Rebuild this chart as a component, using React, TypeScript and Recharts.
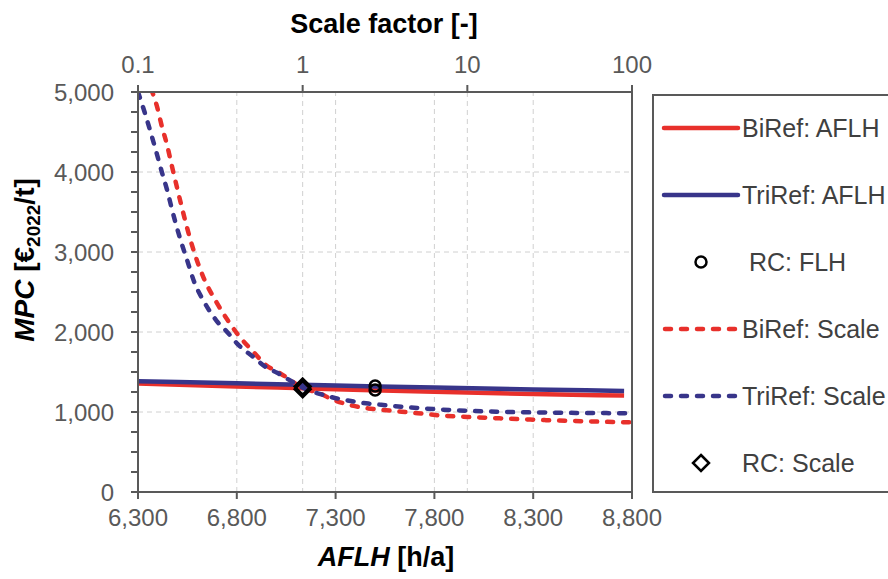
import { ComposedChart, Line, Scatter, XAxis, YAxis, ReferenceLine } from "recharts";

// ─── Data ─────────────────────────────────────────────────────────────────────
const aflhHours = [6300, 6800, 7300, 7800, 8300, 8760];
const biRefAflh = [1355, 1320, 1285, 1252, 1225, 1205];
const triRefAflh = [1385, 1358, 1332, 1305, 1282, 1262];

const scaleFactors = [
  0.1, 0.11, 0.12, 0.13, 0.14, 0.15, 0.16, 0.18, 0.2, 0.22, 0.25, 0.3, 0.35, 0.4, 0.5, 0.6, 0.7,
  0.8, 1, 1.25, 1.5, 2, 2.5, 3, 4, 5, 7, 10, 15, 20, 30, 50, 70, 100,
];
const biRefScale = [
  null, null, 5040, 4830, 4560, 4340, 4090, 3650, 3280, 2990, 2680, 2370, 2150, 1980, 1755, 1585,
  1505, 1432, 1298, 1240, 1160, 1080, 1045, 1028, 1003, 985, 955, 938, 922, 912, 898, 885, 877, 871,
];
const triRefScale = [
  5000, 4740, 4480, 4230, 3990, 3780, 3550, 3170, 2880, 2620, 2390, 2140, 1995, 1855, 1690, 1560,
  1490, 1420, 1302, 1230, 1185, 1135, 1105, 1090, 1065, 1050, 1030, 1015, 1004, 998, 993, 988, 986, 984,
];

const rcFlhAflh = [7500, 7500];
const rcFlhMpc = [1325, 1275];
const rcScaleFactor = [1, 1];
const rcScaleMpc = [1318, 1285];

const aflhTicks = [6300, 6800, 7300, 7800, 8300, 8800];
const scaleTicks = [0.1, 1, 10, 100];
const mpcTicks = [
  0, 250, 500, 750, 1000, 1250, 1500, 1750, 2000, 2250, 2500, 2750, 3000, 3250, 3500, 3750, 4000,
  4250, 4500, 4750, 5000,
];
const mpcGrid = [1000, 2000, 3000, 4000];
const aflhGrid = [6800, 7300, 7800, 8300];
const scaleGrid = [1, 10];

const aflhRows = aflhHours.map((x, i) => ({ x, bi: biRefAflh[i], tri: triRefAflh[i] }));
const scaleRows = scaleFactors.map((x, i) => ({ x, bi: biRefScale[i], tri: triRefScale[i] }));
const rcFlhRows = rcFlhAflh.map((x, i) => ({ x, y: rcFlhMpc[i] }));
const rcScaleRows = rcScaleFactor.map((x, i) => ({ x, y: rcScaleMpc[i] }));

// ─── Style ────────────────────────────────────────────────────────────────────
const RED = "#E8302B";
const BLUE = "#38358A";
const AXIS = "#595959";
const GRID = "#D0D0D0";
const FONT = "'Liberation Sans', Arial, sans-serif";

function MpcTick({ x, y, payload }: any) {
  if (payload.value % 1000 !== 0) return <g />;
  return (
    <text x={x} y={y} dy="0.36em" textAnchor="end" fill={AXIS} fontSize={24} fontFamily={FONT}>
      {payload.value.toLocaleString("en-US")}
    </text>
  );
}

const EmptyTick = () => <g />;

function Ring({ cx, cy }: any) {
  return <circle cx={cx} cy={cy} r={5.5} fill="none" stroke="#000" strokeWidth={2.5} />;
}

function Diamond({ cx, cy }: any) {
  const s = 8;
  return (
    <path
      d={`M${cx},${cy - s} L${cx + s},${cy} L${cx},${cy + s} L${cx - s},${cy} Z`}
      fill="none"
      stroke="#000"
      strokeWidth={2.5}
    />
  );
}

// ─── Legend ───────────────────────────────────────────────────────────────────
const legendItems = [
  { label: "BiRef: AFLH", kind: "solid", color: RED },
  { label: "TriRef: AFLH", kind: "solid", color: BLUE },
  { label: " RC: FLH", kind: "ring", color: "#000" },
  { label: "BiRef: Scale", kind: "dash", color: RED },
  { label: "TriRef: Scale", kind: "dash", color: BLUE },
  { label: "RC: Scale", kind: "diamond", color: "#000" },
];

function ChartLegend() {
  return (
    <div
      style={{
        position: "absolute",
        left: 652,
        top: 94,
        width: 260,
        height: 399,
        border: `2px solid ${AXIS}`,
        boxSizing: "border-box",
        fontFamily: FONT,
      }}
    >
      {legendItems.map((it, i) => (
        <div
          key={it.label}
          style={{
            position: "absolute",
            left: 0,
            top: 32 + i * 67 - 15,
            height: 30,
            display: "flex",
            alignItems: "center",
          }}
        >
          <svg width={88} height={30} style={{ display: "block" }}>
            {it.kind === "solid" && (
              <line x1={10} x2={84} y1={15} y2={15} stroke={it.color} strokeWidth={4.5} strokeLinecap="round" />
            )}
            {it.kind === "dash" && (
              <line
                x1={11}
                x2={84}
                y1={15}
                y2={15}
                stroke={it.color}
                strokeWidth={4.5}
                strokeDasharray="6 10"
                strokeLinecap="round"
              />
            )}
            {it.kind === "ring" && <Ring cx={47} cy={15} />}
            {it.kind === "diamond" && <Diamond cx={47} cy={15} />}
          </svg>
          <span style={{ fontSize: 25, color: "#404040", whiteSpace: "pre" }}>{it.label}</span>
        </div>
      ))}
    </div>
  );
}

// ─── Chart ────────────────────────────────────────────────────────────────────
export default function App() {
  return (
    <div
      style={{
        position: "absolute",
        left: 0,
        top: 0,
        width: 888,
        height: 579,
        overflow: "hidden",
        background: "#fff",
      }}
    >
      <ComposedChart width={888} height={579} margin={{ top: 0, right: 0, bottom: 0, left: 0 }}>
        <XAxis
          xAxisId="aflh"
          dataKey="x"
          type="number"
          orientation="bottom"
          domain={[6300, 8800]}
          ticks={aflhTicks}
          height={87}
          allowDataOverflow
          stroke={AXIS}
          axisLine={{ stroke: AXIS, strokeWidth: 2 }}
          tickLine={{ stroke: AXIS, strokeWidth: 2 }}
          tickSize={7}
          tickMargin={10}
          tick={{ fill: AXIS, fontSize: 24, fontFamily: FONT }}
          tickFormatter={(v: number) => v.toLocaleString("en-US")}
        />
        <XAxis
          xAxisId="scale"
          dataKey="x"
          type="number"
          scale="log"
          orientation="top"
          domain={[0.1, 100]}
          ticks={scaleTicks}
          height={92}
          allowDataOverflow
          stroke={AXIS}
          axisLine={{ stroke: AXIS, strokeWidth: 2 }}
          tickLine={{ stroke: AXIS, strokeWidth: 2 }}
          tickSize={7}
          tickMargin={12}
          tick={{ fill: AXIS, fontSize: 24, fontFamily: FONT }}
          tickFormatter={(v: number) => String(v)}
        />
        <YAxis
          yAxisId="mpc"
          dataKey="y"
          type="number"
          orientation="left"
          domain={[0, 5000]}
          ticks={mpcTicks}
          width={138}
          allowDataOverflow
          interval={0}
          axisLine={{ stroke: AXIS, strokeWidth: 2 }}
          tickLine={{ stroke: AXIS, strokeWidth: 2 }}
          tickSize={7}
          tickMargin={17}
          tick={<MpcTick />}
        />
        <YAxis
          yAxisId="mpcRight"
          type="number"
          orientation="right"
          domain={[0, 5000]}
          ticks={mpcTicks}
          width={256}
          interval={0}
          axisLine={{ stroke: AXIS, strokeWidth: 2 }}
          tickLine={{ stroke: AXIS, strokeWidth: 2 }}
          tickSize={7}
          tick={<EmptyTick />}
        />

        {mpcGrid.map((v) => (
          <ReferenceLine
            key={`h${v}`}
            y={v}
            xAxisId="aflh"
            yAxisId="mpc"
            stroke={GRID}
            strokeDasharray="5 4"
          />
        ))}
        {aflhGrid.map((v) => (
          <ReferenceLine
            key={`va${v}`}
            x={v}
            xAxisId="aflh"
            yAxisId="mpc"
            stroke={GRID}
            strokeDasharray="5 4"
          />
        ))}
        {scaleGrid.map((v) => (
          <ReferenceLine
            key={`vs${v}`}
            x={v}
            xAxisId="scale"
            yAxisId="mpc"
            stroke={GRID}
            strokeDasharray="5 4"
          />
        ))}

        <Line
          data={aflhRows}
          dataKey="bi"
          name="BiRef: AFLH"
          xAxisId="aflh"
          yAxisId="mpc"
          type="monotone"
          stroke={RED}
          strokeWidth={4.5}
          dot={false}
          isAnimationActive={false}
        />
        <Line
          data={aflhRows}
          dataKey="tri"
          name="TriRef: AFLH"
          xAxisId="aflh"
          yAxisId="mpc"
          type="monotone"
          stroke={BLUE}
          strokeWidth={4.5}
          dot={false}
          isAnimationActive={false}
        />
        <Scatter
          data={rcFlhRows}
          name="RC: FLH"
          xAxisId="aflh"
          yAxisId="mpc"
          shape={<Ring />}
          isAnimationActive={false}
        />
        <Line
          data={scaleRows}
          dataKey="bi"
          name="BiRef: Scale"
          xAxisId="scale"
          yAxisId="mpc"
          type="monotone"
          stroke={RED}
          strokeWidth={4.5}
          strokeDasharray="6 10"
          strokeLinecap="round"
          dot={false}
          isAnimationActive={false}
        />
        <Line
          data={scaleRows}
          dataKey="tri"
          name="TriRef: Scale"
          xAxisId="scale"
          yAxisId="mpc"
          type="monotone"
          stroke={BLUE}
          strokeWidth={4.5}
          strokeDasharray="6 10"
          strokeLinecap="round"
          dot={false}
          isAnimationActive={false}
        />
        <Scatter
          data={rcScaleRows}
          name="RC: Scale"
          xAxisId="scale"
          yAxisId="mpc"
          shape={<Diamond />}
          isAnimationActive={false}
        />

        {/* axis titles */}
        <text x={384} y={33} textAnchor="middle" fontFamily={FONT} fontSize={27} fontWeight="bold" fill="#000">
          Scale factor [-]
        </text>
        <text x={386} y={566} textAnchor="middle" fontFamily={FONT} fontSize={27} fontWeight="bold" fill="#000">
          <tspan fontStyle="italic">AFLH</tspan>
          <tspan> [h/a]</tspan>
        </text>
        <text
          transform="translate(34, 260) rotate(-90)"
          textAnchor="middle"
          fontFamily={FONT}
          fontSize={28}
          fontWeight="bold"
          fill="#000"
        >
          <tspan fontStyle="italic">MPC</tspan>
          <tspan> [€</tspan>
          <tspan fontSize={19} dy={6}>2022</tspan>
          <tspan dy={-6}>/t]</tspan>
        </text>
      </ComposedChart>
      <ChartLegend />
    </div>
  );
}
